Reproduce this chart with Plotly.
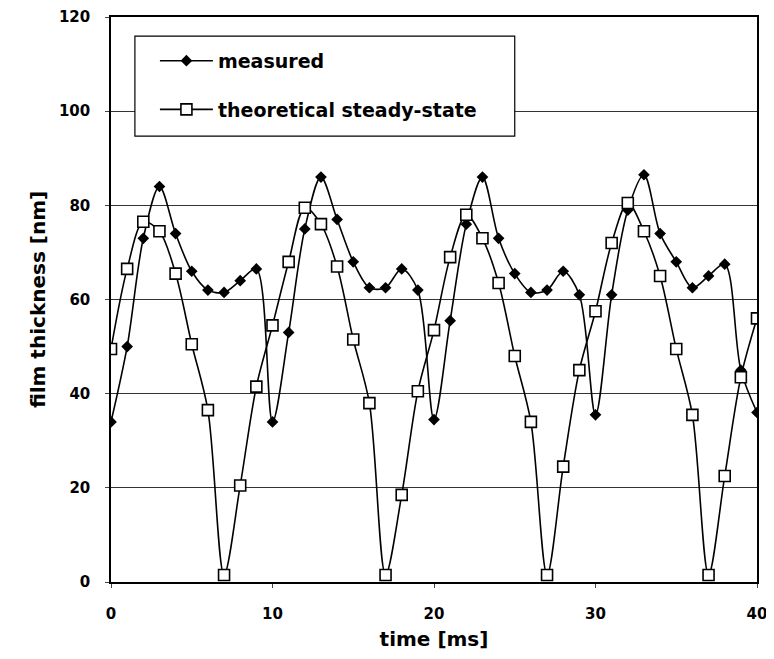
import plotly.graph_objects as go

time_ms = list(range(0, 41))

measured = [34, 50, 73, 84, 74, 66, 62, 61.5, 64, 66.5,
            34, 53, 75, 86, 77, 68, 62.5, 62.5, 66.5, 62,
            34.5, 55.5, 76, 86, 73, 65.5, 61.5, 62, 66, 61,
            35.5, 61, 79, 86.5, 74, 68, 62.5, 65, 67.5, 45,
            36]

theoretical = [49.5, 66.5, 76.5, 74.5, 65.5, 50.5, 36.5, 1.5, 20.5, 41.5,
               54.5, 68, 79.5, 76, 67, 51.5, 38, 1.5, 18.5, 40.5,
               53.5, 69, 78, 73, 63.5, 48, 34, 1.5, 24.5, 45,
               57.5, 72, 80.5, 74.5, 65, 49.5, 35.5, 1.5, 22.5, 43.5,
               56]

x_ticks = [0, 10, 20, 30, 40]
y_ticks = [0, 20, 40, 60, 80, 100, 120]

FF = "DejaVu Sans, Arial, sans-serif"

fig = go.Figure()
fig.add_trace(go.Scatter(
    x=time_ms, y=measured, name="measured", mode="lines+markers",
    legendgroup="a",
    line=dict(color="black", width=1.6, shape="spline", smoothing=0.9),
    marker=dict(symbol="diamond", size=9, color="black"),
))
fig.add_trace(go.Scatter(
    x=time_ms, y=theoretical, name="theoretical steady-state", mode="lines+markers",
    legendgroup="b",
    line=dict(color="black", width=1.6, shape="spline", smoothing=0.9),
    marker=dict(symbol="square", size=11, color="white", line=dict(color="black", width=1.6)),
))

# legend frame (white box behind legend entries)
fig.add_shape(type="rect", xref="paper", yref="paper",
              x0=0.037, x1=0.625, y0=0.789, y1=0.966,
              line=dict(color="black", width=1.2), fillcolor="white", layer="above")

# page body has an 8px margin; offsets compensate so the plot lands where the reference has it
fig.update_layout(
    width=766, height=651,
    margin=dict(l=103, r=17, t=9, b=77),
    paper_bgcolor="white", plot_bgcolor="white",
    font=dict(family=FF, size=15, color="black"),
    showlegend=True,
    legend=dict(
        x=0.068, y=0.956, xanchor="left", yanchor="top",
        borderwidth=0, bgcolor="rgba(0,0,0,0)",
        font=dict(size=19, family=FF, weight="bold"),
        itemwidth=53, tracegroupgap=21,
    ),
    xaxis=dict(
        range=[0, 40], tickvals=x_ticks, ticks="outside", ticklen=4,
        showline=True, linecolor="black", linewidth=1.5, mirror=True,
        showgrid=False, zeroline=False, automargin=False,
        ticklabelstandoff=13, ticklabeloverflow="allow",
        tickfont=dict(size=15, family=FF, weight="bold"),
        title=dict(text="time [ms]", font=dict(size=20, family=FF, weight="bold"), standoff=10),
    ),
    yaxis=dict(
        range=[0, 120], tickvals=y_ticks, ticks="outside", ticklen=4,
        showline=True, linecolor="black", linewidth=1.5, mirror=True,
        showgrid=True, gridcolor="#333333", gridwidth=1,
        zeroline=False, automargin=False,
        ticklabelstandoff=12, ticklabeloverflow="allow",
        tickfont=dict(size=15, family=FF, weight="bold"),
        title=dict(text="film thickness [nm]", font=dict(size=20, family=FF, weight="bold"), standoff=8),
    ),
)

fig.write_html("out.html")
